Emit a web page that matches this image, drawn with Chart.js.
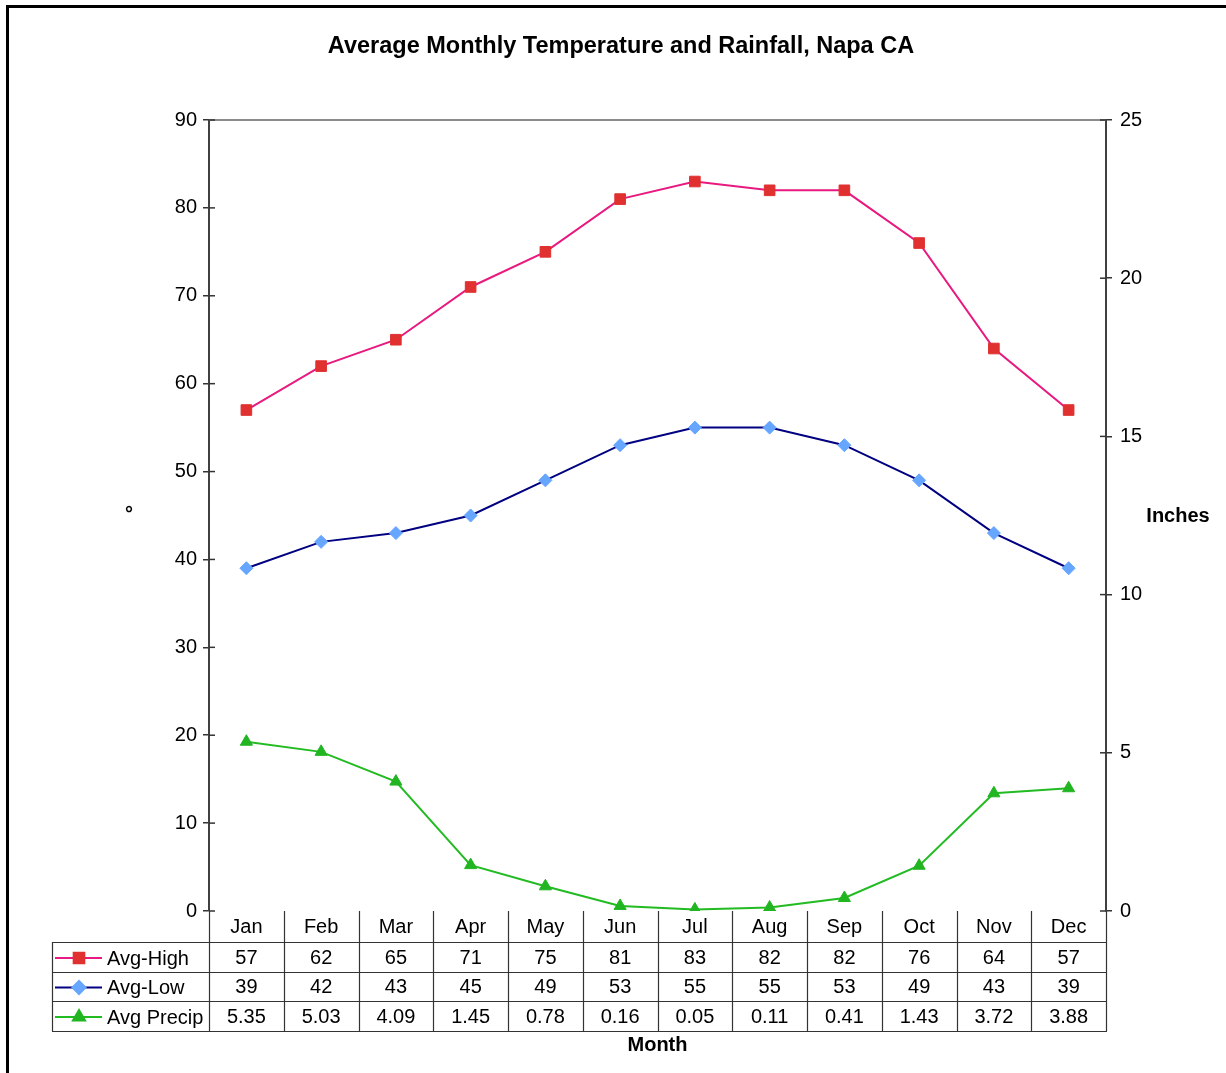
<!DOCTYPE html>
<html>
<head>
<meta charset="utf-8">
<script src="https://cdn.jsdelivr.net/npm/chart.js@4.4.0/dist/chart.umd.min.js"></script>
<style>
  html, body { margin: 0; padding: 0; background: #fff; }
  #wrap { width: 1226px; height: 1073px; }
</style>
</head>
<body>
<div id="wrap"><canvas id="napaChart" width="1226" height="1073"></canvas></div>
<script>
const months = ['Jan', 'Feb', 'Mar', 'Apr', 'May', 'Jun', 'Jul', 'Aug', 'Sep', 'Oct', 'Nov', 'Dec'];
const avgHigh = [57, 62, 65, 71, 75, 81, 83, 82, 82, 76, 64, 57];
const avgLow = [39, 42, 43, 45, 49, 53, 55, 55, 53, 49, 43, 39];
const avgPrecip = [5.35, 5.03, 4.09, 1.45, 0.78, 0.16, 0.05, 0.11, 0.41, 1.43, 3.72, 3.88];
const precipLabels = ['5.35', '5.03', '4.09', '1.45', '0.78', '0.16', '0.05', '0.11', '0.41', '1.43', '3.72', '3.88'];

const FONT = 'Arial, "Liberation Sans", sans-serif';

// draws title, frame, axis captions and the data table under the plot
const excelPlugin = {
    id: 'excelStyle',
    beforeDraw(chart) {
        const ctx = chart.ctx;
        ctx.save();
        ctx.fillStyle = '#fff';
        ctx.fillRect(0, 0, chart.width, chart.height);
        ctx.strokeStyle = '#000';
        ctx.lineWidth = 3;
        ctx.strokeRect(7.5, 6.5, 1400, 1200);
        ctx.restore();
    },
    beforeDatasetsDraw(chart) {
        const ctx = chart.ctx;
        const a = chart.chartArea;
        ctx.save();
        ctx.strokeStyle = '#8a8a8a';
        ctx.lineWidth = 2;
        ctx.beginPath();
        ctx.moveTo(a.left, a.top);
        ctx.lineTo(a.right, a.top);
        ctx.stroke();
        // inner halves of the crossing tick marks
        ctx.strokeStyle = '#333';
        ctx.lineWidth = 1.5;
        const yl = chart.scales.y, yr = chart.scales.y1;
        yl.ticks.forEach(t => {
            const p = yl.getPixelForValue(t.value);
            ctx.beginPath(); ctx.moveTo(a.left, p); ctx.lineTo(a.left + 6, p); ctx.stroke();
        });
        yr.ticks.forEach(t => {
            const p = yr.getPixelForValue(t.value);
            ctx.beginPath(); ctx.moveTo(a.right - 6, p); ctx.lineTo(a.right, p); ctx.stroke();
        });
        ctx.restore();
    },
    afterDraw(chart) {
        const ctx = chart.ctx;
        const a = chart.chartArea;
        const x = chart.scales.x;
        ctx.save();
        ctx.fillStyle = '#000';
        ctx.textAlign = 'center';
        ctx.textBaseline = 'middle';

        ctx.font = 'bold 23.5px ' + FONT;
        ctx.fillText('Average Monthly Temperature and Rainfall, Napa CA', 621, 47);
        ctx.font = 'bold 20px ' + FONT;
        ctx.fillText('\u00b0', 129, 514);
        ctx.fillText('Inches', 1178, 516);
        ctx.fillText('Month', (a.left + a.right) / 2, 1045);

        // table grid
        const colW = (a.right - a.left) / months.length;
        const rowY = [a.bottom, 942, 972, 1001, 1031];
        const legendLeft = 52;
        ctx.strokeStyle = '#333';
        ctx.lineWidth = 1.2;
        ctx.beginPath();
        for (let i = 0; i <= months.length; i++) {
            const cx = Math.round(a.left + i * colW) + 0.5;
            ctx.moveTo(cx, a.bottom);
            ctx.lineTo(cx, rowY[4]);
        }
        ctx.moveTo(legendLeft + 0.5, rowY[1]);
        ctx.lineTo(legendLeft + 0.5, rowY[4]);
        for (let r = 1; r < rowY.length; r++) {
            ctx.moveTo(legendLeft, rowY[r] + 0.5);
            ctx.lineTo(a.right + 1, rowY[r] + 0.5);
        }
        ctx.stroke();

        // cell text
        ctx.font = '20px ' + FONT;
        const rows = [avgHigh.map(String), avgLow.map(String), precipLabels];
        months.forEach((m, i) => {
            const cx = x.getPixelForValue(i);
            ctx.fillText(m, cx, (rowY[0] + rowY[1]) / 2 + 1);
            rows.forEach((vals, r) => {
                ctx.fillText(vals[i], cx, (rowY[r + 1] + rowY[r + 2]) / 2 + 1);
            });
        });

        // legend keys in the first column
        chart.data.datasets.forEach((ds, r) => {
            const cy = (rowY[r + 1] + rowY[r + 2]) / 2 + 1;
            ctx.strokeStyle = ds.borderColor;
            ctx.lineWidth = 2;
            ctx.beginPath();
            ctx.moveTo(55, cy);
            ctx.lineTo(102, cy);
            ctx.stroke();
            ctx.fillStyle = ds.pointBackgroundColor;
            ctx.strokeStyle = ds.pointBorderColor;
            Chart.helpers.drawPoint(ctx, {
                pointStyle: ds.pointStyle,
                radius: ds.pointRadius,
                borderWidth: 1
            }, 79, cy);
            ctx.fillStyle = '#000';
            ctx.textAlign = 'left';
            ctx.fillText(ds.label, 107, cy + 1);
            ctx.textAlign = 'center';
        });
        ctx.restore();
    }
};

const ctx = document.getElementById('napaChart').getContext('2d');
const napaChart = new Chart(ctx, {
    type: 'line',
    data: {
        labels: months,
        datasets: [{
            label: 'Avg-High',
            data: avgHigh,
            yAxisID: 'y',
            borderColor: '#e8197f',
            borderWidth: 2,
            pointStyle: 'rect',
            pointRadius: 7.5,
            pointBackgroundColor: '#e03030',
            pointBorderColor: '#e03030',
            pointBorderWidth: 1
        }, {
            label: 'Avg-Low',
            data: avgLow,
            yAxisID: 'y',
            borderColor: '#000080',
            borderWidth: 2,
            pointStyle: 'rectRot',
            pointRadius: 6.5,
            pointBackgroundColor: '#66a6ff',
            pointBorderColor: '#66a6ff',
            pointBorderWidth: 1
        }, {
            label: 'Avg Precip',
            data: avgPrecip,
            yAxisID: 'y1',
            borderColor: '#22bb22',
            borderWidth: 2,
            pointStyle: 'triangle',
            pointRadius: 7,
            pointBackgroundColor: '#22b522',
            pointBorderColor: '#22b522',
            pointBorderWidth: 1
        }]
    },
    options: {
        responsive: false,
        animation: false,
        layout: { padding: { top: 120, left: 0, right: 0, bottom: 0 } },
        plugins: {
            legend: { display: false },
            tooltip: { enabled: false },
            title: { display: false }
        },
        scales: {
            x: {
                offset: true,
                ticks: { display: false },
                grid: { display: false },
                border: { display: false },
                afterFit: function(scale) { scale.height = 162; }
            },
            y: {
                position: 'left',
                min: 0,
                max: 90,
                ticks: { stepSize: 10, color: '#000', padding: 6, font: { family: FONT, size: 20 } },
                grid: { drawOnChartArea: false, tickLength: 6, color: '#333', lineWidth: 1.5 },
                border: { color: '#404040', width: 2 },
                afterFit: function(scale) { scale.width = 209; }
            },
            y1: {
                position: 'right',
                min: 0,
                max: 25,
                ticks: { stepSize: 5, color: '#000', padding: 8, font: { family: FONT, size: 20 } },
                grid: { drawOnChartArea: false, tickLength: 6, color: '#333', lineWidth: 1.5 },
                border: { color: '#404040', width: 2 },
                afterFit: function(scale) { scale.width = 120; }
            }
        }
    },
    plugins: [excelPlugin]
});
</script>
</body>
</html>
